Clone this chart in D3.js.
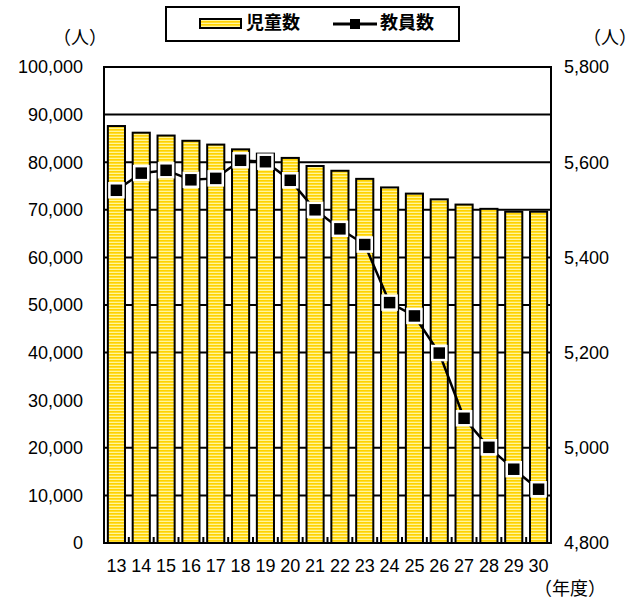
<!DOCTYPE html>
<html>
<head>
<meta charset="utf-8">
<script src="https://cdn.jsdelivr.net/npm/d3@7"></script>
<style>
    body { margin: 0; background: #fff; }
    text { fill: #000; }
    .num { font-family: "Liberation Sans", Arial, sans-serif; font-size: 18px; }
    .jp { font-family: "Noto Sans CJK JP", sans-serif; font-size: 18px; }
</style>
</head>
<body>
<script>
var years = ['13', '14', '15', '16', '17', '18', '19', '20', '21', '22', '23', '24', '25', '26', '27', '28', '29', '30'];
var pupils = [87600, 86200, 85600, 84500, 83700, 82700, 81800, 80900, 79200, 78200, 76500, 74700, 73400, 72200, 71100, 70200, 69600, 69600];
var teachers = [5541, 5577, 5583, 5563, 5566, 5604, 5601, 5562, 5500, 5460, 5427, 5305, 5277, 5199, 5062, 5001, 4955, 4913];
var leftTicks = [0, 10000, 20000, 30000, 40000, 50000, 60000, 70000, 80000, 90000, 100000];
var rightTicks = [4800, 5000, 5200, 5400, 5600, 5800];
// the 30,000 line is missing in the original
var gridValues = [10000, 20000, 40000, 50000, 60000, 70000, 80000, 90000];

(function () {
    var width = 640,
        height = 600,
        left = 104, right = 551, top = 67, bottom = 543,
        svg, x, yL, yR, fmt, line, legend;

    svg = d3.select('body').append('svg')
        .attr('width', width)
        .attr('height', height);

    // striped yellow fill of the bars
    var pat = svg.append('defs').append('pattern')
        .attr('id', 'stripe')
        .attr('patternUnits', 'userSpaceOnUse')
        .attr('width', 4)
        .attr('height', 3);
    pat.append('rect').attr('width', 4).attr('height', 3).attr('fill', '#ffd200');
    pat.append('rect').attr('y', 1.7).attr('width', 4).attr('height', 1.3).attr('fill', '#fff59a');

    x = d3.scaleBand().domain(years).range([left, right]).paddingInner(0.31).paddingOuter(0.155);
    yL = d3.scaleLinear().domain([0, 100000]).range([bottom, top]);
    yR = d3.scaleLinear().domain([4800, 5800]).range([bottom, top]);
    fmt = d3.format(',');

    // gridlines
    svg.append('g').selectAll('line').data(gridValues).enter().append('line')
        .attr('x1', left).attr('x2', right)
        .attr('y1', function (d) { return yL(d); })
        .attr('y2', function (d) { return yL(d); })
        .attr('stroke', '#000').attr('stroke-width', 2);

    // bars
    svg.append('g').selectAll('rect').data(pupils).enter().append('rect')
        .attr('x', function (d, i) { return x(years[i]); })
        .attr('y', function (d) { return yL(d); })
        .attr('width', x.bandwidth())
        .attr('height', function (d) { return yL(0) - yL(d); })
        .attr('fill', 'url(#stripe)')
        .attr('stroke', '#000').attr('stroke-width', 2);

    // frame
    svg.append('rect')
        .attr('x', left).attr('y', top)
        .attr('width', right - left).attr('height', bottom - top)
        .attr('fill', 'none').attr('stroke', '#000').attr('stroke-width', 2);

    // small ticks between categories on the bottom
    var step = x.step();
    svg.append('g').selectAll('line').data(years.slice(1)).enter().append('line')
        .attr('x1', function (d) { return x(d) - step * 0.155; })
        .attr('x2', function (d) { return x(d) - step * 0.155; })
        .attr('y1', bottom).attr('y2', bottom - 6)
        .attr('stroke', '#000').attr('stroke-width', 2);

    // left axis labels
    svg.append('g').selectAll('text').data(leftTicks).enter().append('text')
        .attr('class', 'num')
        .attr('x', 83)
        .attr('y', function (d) { return yL(d); })
        .attr('dy', '.35em')
        .attr('text-anchor', 'end')
        .text(function (d) { return fmt(d); });

    // right axis labels
    svg.append('g').selectAll('text').data(rightTicks).enter().append('text')
        .attr('class', 'num')
        .attr('x', 564)
        .attr('y', function (d) { return yR(d); })
        .attr('dy', '.35em')
        .text(function (d) { return fmt(d); });

    // category labels
    svg.append('g').selectAll('text').data(years).enter().append('text')
        .attr('class', 'num')
        .attr('x', function (d) { return x(d) + x.bandwidth() / 2; })
        .attr('y', 566)
        .attr('dy', '.35em')
        .attr('text-anchor', 'middle')
        .text(function (d) { return d; });

    // teacher line
    line = d3.line()
        .x(function (d, i) { return x(years[i]) + x.bandwidth() / 2; })
        .y(function (d) { return yR(d); });
    svg.append('path').datum(teachers)
        .attr('d', line)
        .attr('fill', 'none')
        .attr('stroke', '#000').attr('stroke-width', 2.5);
    svg.append('g').selectAll('rect').data(teachers).enter().append('rect')
        .attr('x', function (d, i) { return x(years[i]) + x.bandwidth() / 2 - 7; })
        .attr('y', function (d) { return yR(d) - 7; })
        .attr('width', 14).attr('height', 14)
        .attr('fill', '#000')
        .attr('stroke', '#fff').attr('stroke-width', 2.5);

    // units
    svg.append('text').attr('class', 'jp').attr('x', 80).attr('y', 38)
        .attr('dy', '.35em').attr('text-anchor', 'middle').text('（人）');
    svg.append('text').attr('class', 'jp').attr('x', 610).attr('y', 38)
        .attr('dy', '.35em').attr('text-anchor', 'middle').text('（人）');
    svg.append('text').attr('class', 'jp').attr('x', 570).attr('y', 589)
        .attr('dy', '.35em').attr('text-anchor', 'middle').text('（年度）');

    // legend
    legend = svg.append('g');
    legend.append('rect')
        .attr('x', 166).attr('y', 7).attr('width', 293).attr('height', 34)
        .attr('fill', '#fff').attr('stroke', '#000').attr('stroke-width', 2);
    legend.append('rect')
        .attr('x', 200).attr('y', 19).attr('width', 41).attr('height', 9)
        .attr('fill', 'url(#stripe)').attr('stroke', '#000').attr('stroke-width', 2);
    legend.append('text').attr('class', 'jp').attr('x', 246).attr('y', 23)
        .attr('dy', '.35em').attr('font-weight', 'bold').text('児童数');
    legend.append('line')
        .attr('x1', 333).attr('x2', 377).attr('y1', 24).attr('y2', 24)
        .attr('stroke', '#000').attr('stroke-width', 3);
    legend.append('rect')
        .attr('x', 350).attr('y', 19).attr('width', 10).attr('height', 10)
        .attr('fill', '#000');
    legend.append('text').attr('class', 'jp').attr('x', 380).attr('y', 23)
        .attr('dy', '.35em').attr('font-weight', 'bold').text('教員数');
}());
</script>
</body>
</html>
